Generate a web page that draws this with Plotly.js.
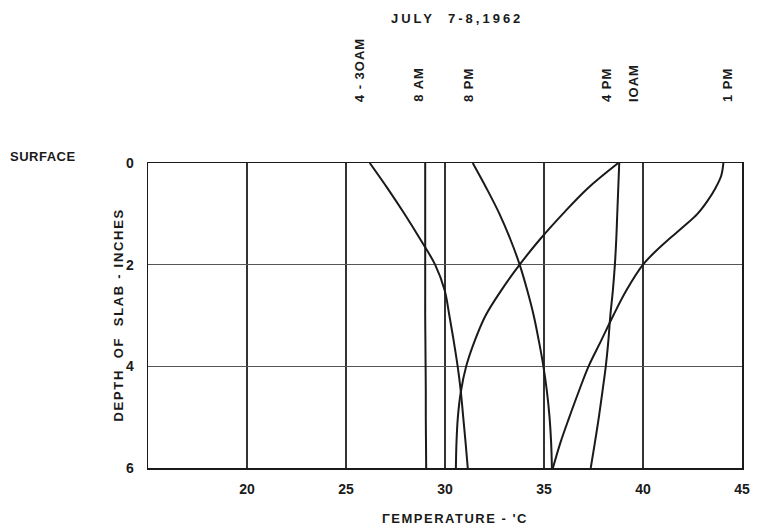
<!DOCTYPE html>
<html>
<head>
<meta charset="utf-8">
<script src="https://cdn.plot.ly/plotly-3.0.1.min.js"></script>
<style>html,body{margin:0;padding:0;background:#fff;}#chart{width:761px;height:525px;}</style>
</head>
<body>
<div id="chart"></div>
<script>
// Depth (inches) sample points
const depth = [0, 0.5, 1, 1.5, 2, 2.5, 3, 3.5, 4, 4.5, 5, 5.5, 6];
const depth1pm = [0, 0.25, 0.5, 0.75, 1.0, 1.25, 1.5, 1.75, 2.0, 2.5, 3, 3.5, 4, 4.5, 5, 5.5, 6];

// Temperatures (deg C)
const t430am = [26.2, 27.1, 27.95, 28.75, 29.5, 29.98, 30.22, 30.44, 30.64, 30.8, 30.92, 31.04, 31.15];
const t8am   = [29.0, 29.0, 29.0, 29.0, 29.0, 29.0, 29.0, 29.01, 29.02, 29.03, 29.03, 29.04, 29.05];
const t8pm   = [31.4, 32.1, 32.75, 33.3, 33.77, 34.15, 34.48, 34.74, 34.97, 35.15, 35.28, 35.36, 35.4];
const t4pm   = [38.75, 37.2, 35.95, 34.8, 33.77, 32.85, 32.05, 31.5, 31.07, 30.8, 30.65, 30.58, 30.55];
const t10am  = [38.8, 38.75, 38.7, 38.65, 38.58, 38.48, 38.35, 38.25, 38.12, 37.95, 37.77, 37.57, 37.36];
const t1pm   = [44.06, 43.95, 43.65, 43.25, 42.75, 42.05, 41.3, 40.6, 40.0, 39.17, 38.5, 37.88, 37.25, 36.75, 36.28, 35.83, 35.45];

// Curve labels (time of day) and the temperature where each label sits
const curveLabels = ["4 - 3OAM", "8 AM", "8 PM", "4 PM", "IOAM", "1 PM"];
const labelTemps = [25.66, 28.69, 31.16, 38.13, 39.49, 44.24];

const xTicks = [20, 25, 30, 35, 40, 45];
const yTicks = [0, 2, 4, 6];

const lineStyle = {color: '#1a1a1a', width: 2, shape: 'spline', smoothing: 1.0};
function trace(x, y, name) {
  return {x: x, y: y, type: 'scatter', mode: 'lines', name: name, line: lineStyle, hoverinfo: 'x+y+name'};
}
const data = [
  trace(t430am, depth, '4-30AM'),
  trace(t8am, depth, '8 AM'),
  trace(t8pm, depth, '8 PM'),
  trace(t4pm, depth, '4 PM'),
  trace(t10am, depth, '10 AM'),
  trace(t1pm, depth1pm, '1 PM')
];

const font = {family: 'Liberation Sans, Arial, sans-serif', size: 13, color: '#1a1a1a', weight: 'bold'};
function spaced(s, px) { return '<span style="letter-spacing:' + px + 'px">' + s + '</span>'; }

const annotations = [
  {text: spaced('JULY  7-8,1962', 3), xref: 'paper', yref: 'paper', x: 0.52, y: 1.475, showarrow: false, xanchor: 'center', yanchor: 'middle', font: font},
  {text: spaced('SURFACE', 0.5), xref: 'paper', yref: 'paper', x: -0.235, y: 1.02, showarrow: false, xanchor: 'left', yanchor: 'middle', font: font},
  {text: spaced('DEPTH  OF  SLAB - INCHES', 1.7), xref: 'paper', yref: 'paper', x: -0.0505, y: 0.5, textangle: -90, showarrow: false, xanchor: 'center', yanchor: 'middle', font: font},
  {text: spaced('ΓEMPERATURE - \'C', 1.5), xref: 'paper', yref: 'paper', x: 0.517, y: -0.164, showarrow: false, xanchor: 'center', yanchor: 'middle', font: font}
];
curveLabels.forEach(function (lab, i) {
  annotations.push({text: spaced(lab, 1), xref: 'x', yref: 'paper', x: labelTemps[i], y: 1.193, textangle: -90,
    showarrow: false, xanchor: 'center', yanchor: 'bottom', font: font});
});

const tickFont = {family: 'Liberation Sans, Arial, sans-serif', size: 14, color: '#1a1a1a', weight: 'bold'};

const layout = {
  width: 761, height: 525,
  margin: {l: 148, r: 19, t: 163, b: 57},
  paper_bgcolor: '#ffffff', plot_bgcolor: '#ffffff',
  showlegend: false,
  font: font,
  xaxis: {
    range: [15, 45], tickvals: xTicks, ticktext: xTicks.map(String),
    showgrid: true, gridcolor: '#333333', gridwidth: 1.5,
    zeroline: false, showline: true, mirror: true, linecolor: '#1a1a1a', linewidth: 1.5,
    ticks: '', ticklabelstandoff: 8, tickfont: tickFont, fixedrange: true
  },
  yaxis: {
    range: [6, 0], tickvals: yTicks, ticktext: yTicks.map(String),
    showgrid: true, gridcolor: '#555555', gridwidth: 1.5,
    zeroline: false, showline: true, mirror: true, linecolor: '#1a1a1a', linewidth: 1.5,
    ticks: '', ticklabelstandoff: 10, tickfont: tickFont, fixedrange: true
  },
  annotations: annotations
};

Plotly.newPlot('chart', data, layout, {displayModeBar: false, staticPlot: true});
</script>
</body>
</html>
